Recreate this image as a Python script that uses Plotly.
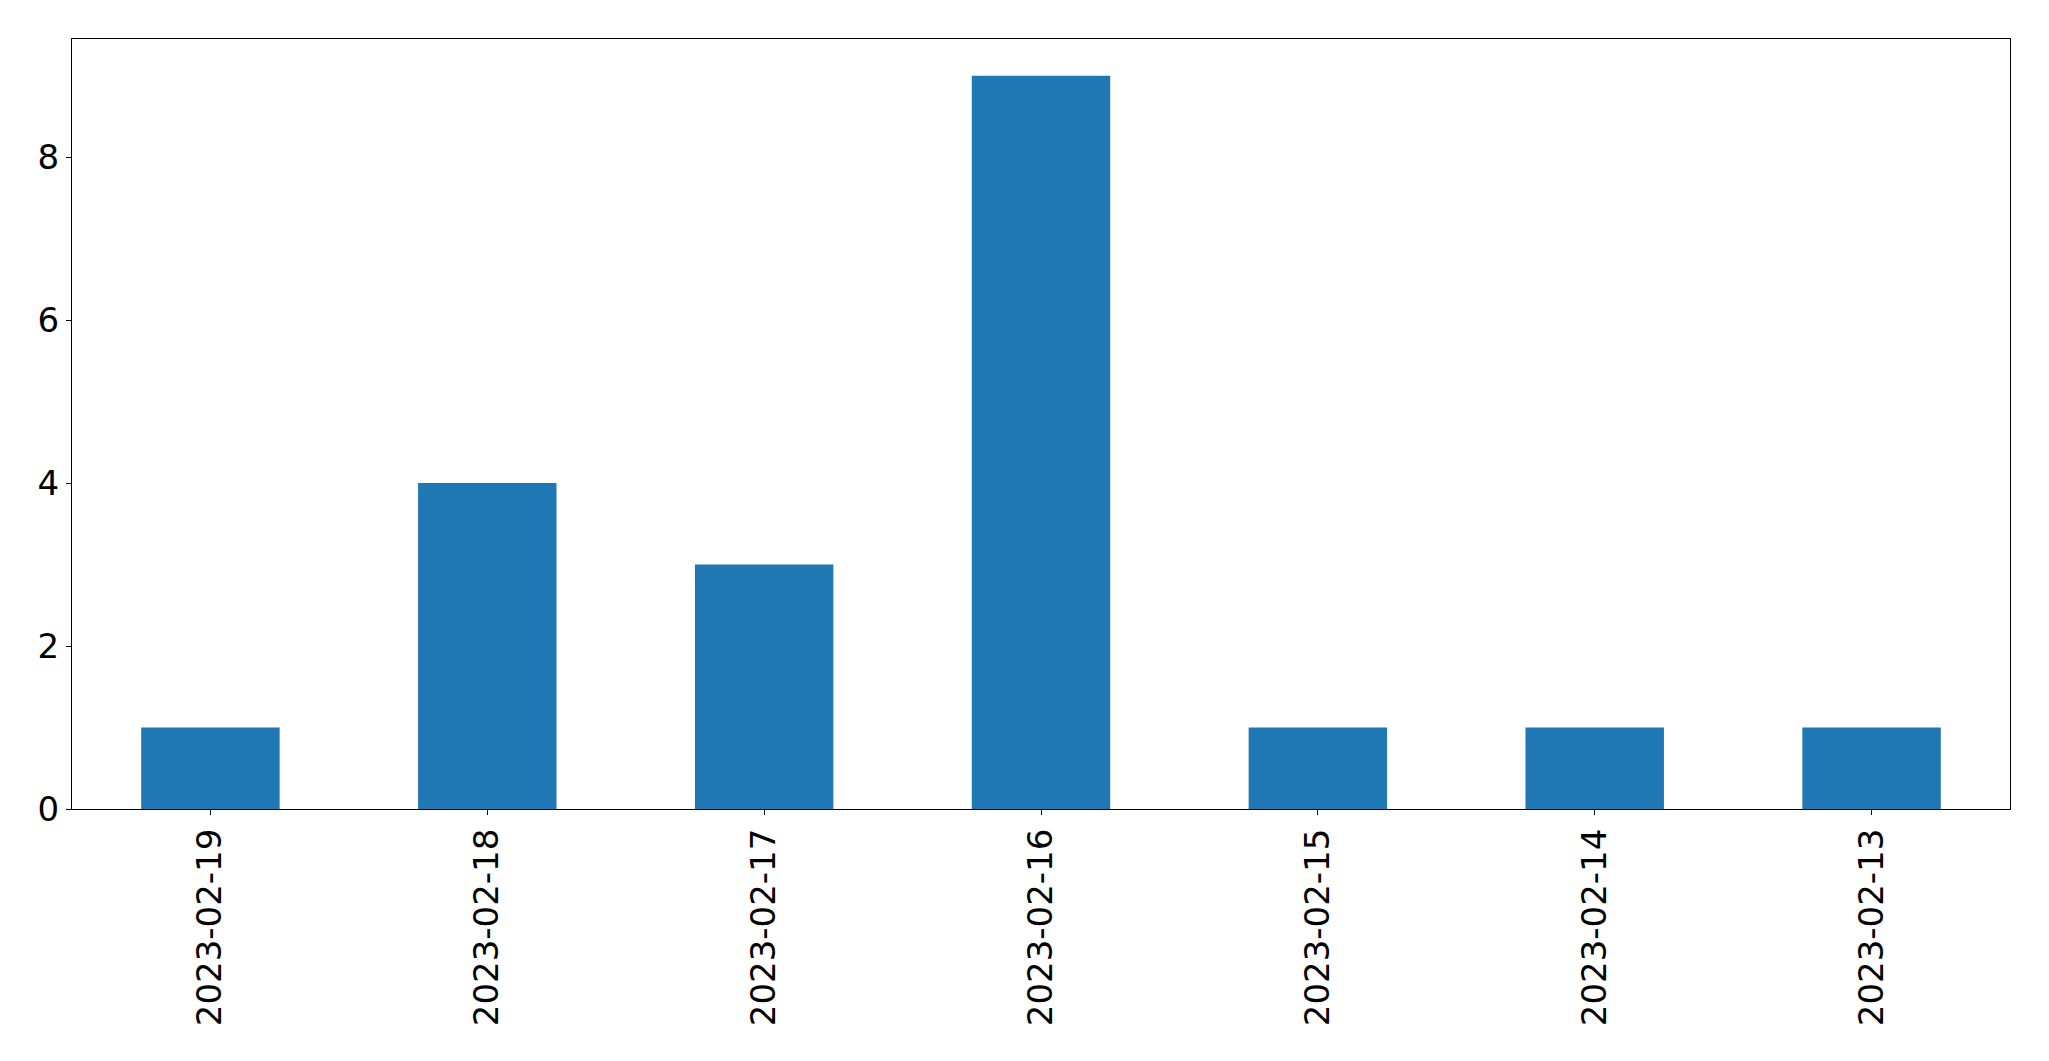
import plotly.graph_objects as go

categories = ["2023-02-19", "2023-02-18", "2023-02-17", "2023-02-16",
              "2023-02-15", "2023-02-14", "2023-02-13"]
values = [1, 4, 3, 9, 1, 1, 1]
y_ticks = [0, 2, 4, 6, 8]

fig = go.Figure(go.Bar(x=categories, y=values, width=0.5,
                       marker=dict(color="#1f77b4", line=dict(width=0))))

font = dict(family="DejaVu Sans", size=34, color="black")
fig.update_layout(
    width=2041, height=1053,
    margin=dict(l=64, r=39, t=31, b=252, pad=0),
    paper_bgcolor="white", plot_bgcolor="white",
    showlegend=False,
    font=font,
)
fig.update_xaxes(
    type="category", range=[-0.5, 6.5],
    showline=True, linecolor="black", linewidth=1.1, mirror=True,
    ticks="outside", ticklen=5, tickwidth=1.1, tickcolor="black",
    tickangle=-90, tickfont=font, showgrid=False, zeroline=False,
    ticklabelstandoff=0,
)
fig.update_yaxes(
    range=[0, 9.45], tickvals=y_ticks,
    showline=True, linecolor="black", linewidth=1.1, mirror=True,
    ticks="outside", ticklen=5, tickwidth=1.1, tickcolor="black",
    tickfont=font, showgrid=False, zeroline=False,
    ticklabelstandoff=0,
)
fig.write_html("out.html")
